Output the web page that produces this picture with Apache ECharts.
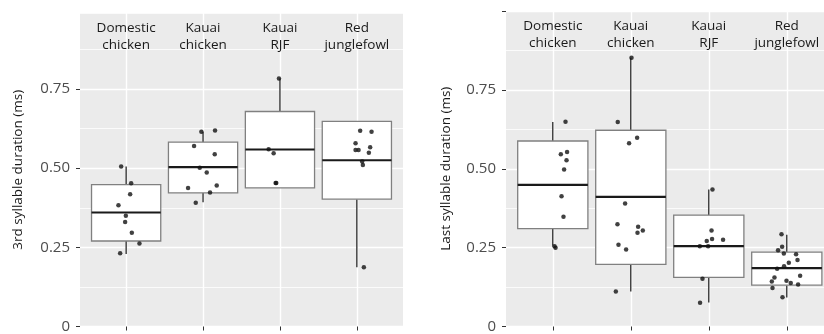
<!DOCTYPE html>
<html>
<head>
<meta charset="utf-8">
<script src="https://cdn.jsdelivr.net/npm/echarts@6/dist/echarts.min.js"></script>
<style>
  html, body { margin: 0; padding: 0; background: #fff; }
  #chart { width: 824px; height: 334px; }
</style>
</head>
<body>
<div id="chart"></div>
<script>
// ---------- data ----------
const categories = ['Domestic\nchicken', 'Kauai\nchicken', 'Kauai\nRJF', 'Red\njunglefowl'];
const yTickValues = [0, 0.25, 0.5, 0.75];

// box stats per category: [lower whisker, Q1, median, Q3, upper whisker]
const boxes3rd = [
  [0.229, 0.270, 0.360, 0.448, 0.505],
  [0.392, 0.422, 0.503, 0.582, 0.615],
  [0.438, 0.438, 0.559, 0.679, 0.783],
  [0.1875, 0.402, 0.525, 0.648, 0.648]
];
const boxesLast = [
  [0.256, 0.310, 0.449, 0.588, 0.648],
  [0.111, 0.197, 0.411, 0.622, 0.852],
  [0.076, 0.156, 0.255, 0.353, 0.434],
  [0.092, 0.131, 0.185, 0.236, 0.291]
];

// individual points (y values) and their horizontal jitter (category units)
const pts3rd = [
  [0.505, 0.452, 0.418, 0.383, 0.350, 0.330, 0.296, 0.2625, 0.231],
  [0.615, 0.619, 0.570, 0.544, 0.501, 0.486, 0.445, 0.4375, 0.423, 0.391],
  [0.783, 0.560, 0.547, 0.453, 0.453],
  [0.618, 0.615, 0.579, 0.557, 0.557, 0.566, 0.549, 0.521, 0.510, 0.1875]
];
const jit3rd = [
  [-0.065, 0.065, 0.052, -0.100, -0.004, -0.013, 0.074, 0.173, -0.078],
  [-0.022, 0.156, -0.117, 0.152, -0.043, 0.048, 0.178, -0.195, 0.091, -0.095],
  [-0.013, -0.147, -0.082, -0.056, -0.048],
  [0.043, 0.191, -0.017, -0.017, 0.022, 0.173, 0.156, 0.069, 0.078, 0.091]
];
const ptsLast = [
  [0.649, 0.546, 0.553, 0.527, 0.498, 0.413, 0.348, 0.254, 0.250],
  [0.852, 0.648, 0.598, 0.581, 0.390, 0.324, 0.316, 0.304, 0.297, 0.259, 0.244, 0.111],
  [0.434, 0.304, 0.271, 0.277, 0.275, 0.254, 0.254, 0.151, 0.075],
  [0.292, 0.253, 0.242, 0.231, 0.229, 0.211, 0.202, 0.191, 0.183, 0.161, 0.155, 0.143, 0.145, 0.138, 0.133, 0.122, 0.093]
];
const jitLast = [
  [0.163, 0.103, 0.183, 0.176, 0.145, 0.112, 0.137, 0.022, 0.035],
  [0.009, -0.167, 0.081, -0.022, -0.073, -0.171, 0.094, 0.154, 0.086, -0.158, -0.060, -0.192],
  [0.047, 0.035, -0.026, 0.042, 0.183, -0.115, -0.009, -0.081, -0.112],
  [-0.068, -0.060, -0.112, -0.038, 0.119, 0.137, 0.026, -0.035, -0.124, 0.171, -0.158, -0.192, -0.004, 0.051, 0.145, -0.183, -0.055]
];

// ---------- helpers ----------
const FONT = "'Open Sans', 'Noto Sans', sans-serif";
const catPositions = categories.map((c, i) => i + 1);

function boxData(stats) {
  return stats.map((s, i) => [i + 1].concat(s));
}
function pointData(ys, jit) {
  const out = [];
  ys.forEach((arr, i) => arr.forEach((y, j) => out.push([i + 1 + jit[i][j], y])));
  return out;
}
function renderBox(params, api) {
  const x = api.value(0);
  const low = api.coord([x, api.value(1)]);
  const q1 = api.coord([x, api.value(2)]);
  const med = api.coord([x, api.value(3)]);
  const q3 = api.coord([x, api.value(4)]);
  const high = api.coord([x, api.value(5)]);
  const hw = api.size([0.9, 0])[0] / 2;
  const black = '#1a1a1a';
  return {
    type: 'group',
    children: [
      { type: 'line', shape: { x1: low[0], y1: low[1], x2: q1[0], y2: q1[1] }, style: { stroke: black, lineWidth: 1.2 } },
      { type: 'line', shape: { x1: q3[0], y1: q3[1], x2: high[0], y2: high[1] }, style: { stroke: black, lineWidth: 1.2 } },
      { type: 'rect', shape: { x: q3[0] - hw, y: q3[1], width: hw * 2, height: q1[1] - q3[1] }, style: { fill: '#ffffff', stroke: '#808080', lineWidth: 1.3 } },
      { type: 'line', shape: { x1: med[0] - hw, y1: med[1], x2: med[0] + hw, y2: med[1] }, style: { stroke: black, lineWidth: 2.2 } }
    ]
  };
}

function xAxesFor(gi, xmax) {
  return [
    {
      gridIndex: gi, type: 'value', min: 0.4, max: xmax,
      axisLine: { show: false },
      axisTick: { show: true, customValues: catPositions, length: 4, lineStyle: { color: '#333', width: 1 } },
      axisLabel: { show: false },
      splitLine: { show: true, lineStyle: { color: '#ffffff', width: 1.4 } }
    },
    {
      gridIndex: gi, type: 'value', position: 'top', min: 0.4, max: xmax,
      axisLine: { show: false }, axisTick: { show: false }, splitLine: { show: false },
      axisLabel: {
        inside: true, customValues: catPositions, margin: 7,
        formatter: v => categories[Math.round(v) - 1] || '',
        color: '#1a1a1a', fontSize: 13.5, lineHeight: 17, fontFamily: FONT, align: 'center'
      }
    }
  ];
}
function yAxesFor(gi, ymax, name, gap, ticks) {
  return [
    {
      gridIndex: gi, type: 'value', min: 0, max: ymax, interval: 0.25,
      name: name, nameLocation: 'middle', nameGap: gap,
      nameTextStyle: { color: '#1a1a1a', fontSize: 13.5, fontFamily: FONT },
      axisLine: { show: false },
      axisTick: { show: true, customValues: ticks, length: 4, lineStyle: { color: '#333', width: 1 } },
      axisLabel: {
        customValues: yTickValues, margin: 10, color: '#4d4d4d', fontSize: 15, fontFamily: FONT,
        formatter: v => (v === 0 ? '0' : v.toFixed(2))
      },
      splitLine: { show: true, lineStyle: { color: '#ffffff', width: 1.4 } }
    },
    {
      gridIndex: gi, type: 'value', min: 0, max: ymax, interval: 0.125, position: 'right',
      axisLine: { show: false }, axisTick: { show: false }, axisLabel: { show: false },
      splitLine: { show: true, lineStyle: { color: '#ffffff', width: 0.8 } }
    }
  ];
}

const chart = echarts.init(document.getElementById('chart'), null, { renderer: 'canvas' });
chart.setOption({
  animation: false,
  backgroundColor: '#ffffff',
  grid: [
    { left: 80, top: 13, width: 323, bottom: 4, show: true, backgroundColor: '#EBEBEB', borderWidth: 0 },
    { left: 506, top: 11, right: 0, bottom: 4, show: true, backgroundColor: '#EBEBEB', borderWidth: 0 }
  ],
  xAxis: xAxesFor(0, 4.6).concat(xAxesFor(1, 4.477)),
  yAxis: yAxesFor(0, 0.99, '3rd syllable duration (ms)', 55, yTickValues)
    .concat(yAxesFor(1, 1.0, 'Last syllable duration (ms)', 53, yTickValues.concat([1]))),
  series: [
    {
      type: 'custom', xAxisIndex: 0, yAxisIndex: 0, renderItem: renderBox,
      encode: { x: 0, y: [1, 2, 3, 4, 5] }, data: boxData(boxes3rd), z: 2
    },
    {
      type: 'scatter', xAxisIndex: 0, yAxisIndex: 0, data: pointData(pts3rd, jit3rd),
      symbolSize: 4.5, itemStyle: { color: '#111111' }, z: 3
    },
    {
      type: 'custom', xAxisIndex: 2, yAxisIndex: 2, renderItem: renderBox,
      encode: { x: 0, y: [1, 2, 3, 4, 5] }, data: boxData(boxesLast), z: 2
    },
    {
      type: 'scatter', xAxisIndex: 2, yAxisIndex: 2, data: pointData(ptsLast, jitLast),
      symbolSize: 4.5, itemStyle: { color: '#111111' }, z: 3
    }
  ]
});
</script>
</body>
</html>
